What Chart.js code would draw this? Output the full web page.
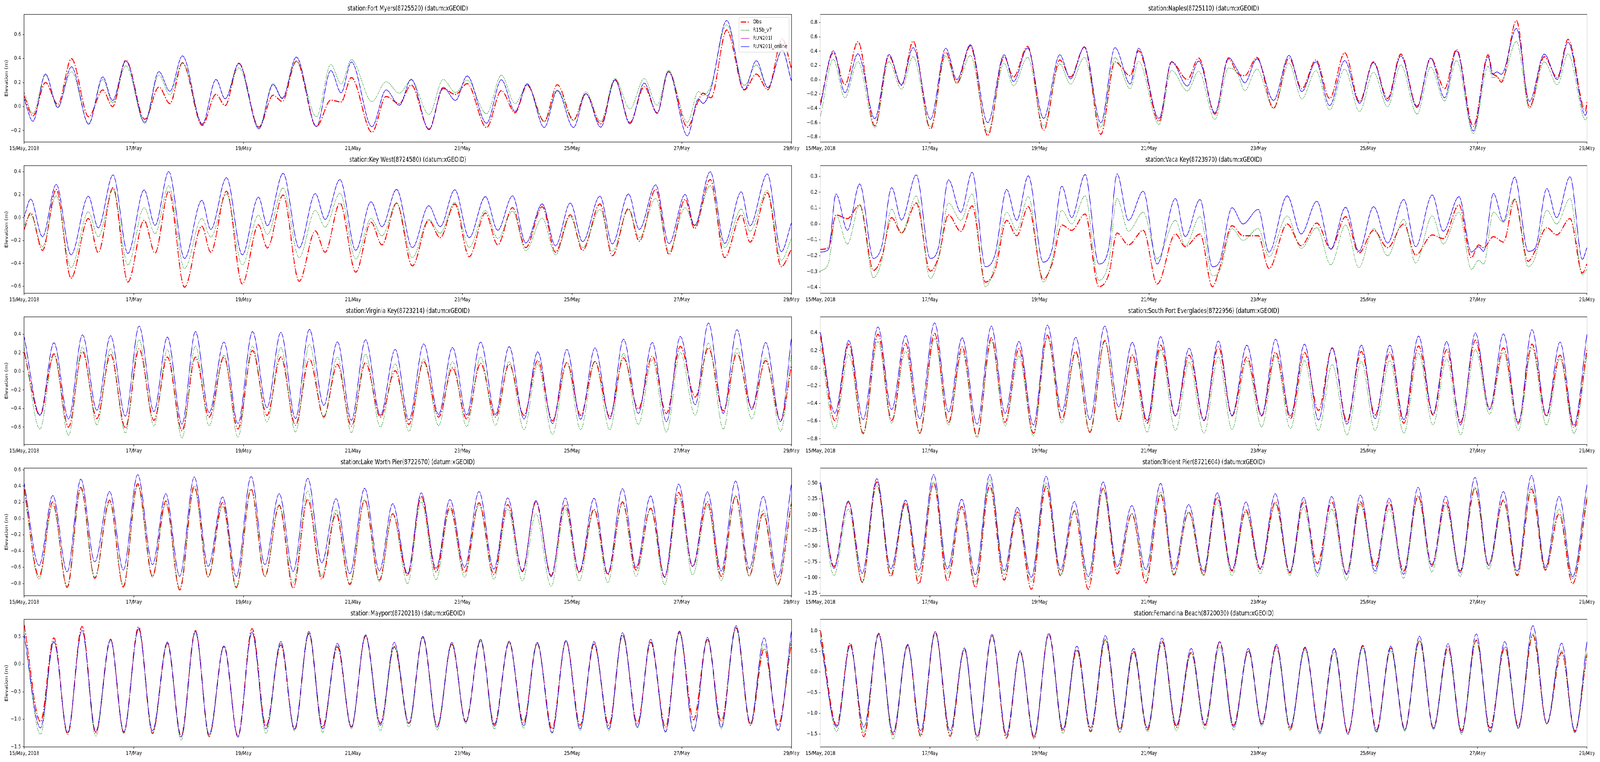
<!DOCTYPE html>
<html>
<head>
<meta charset="utf-8">
<script src="https://cdn.jsdelivr.net/npm/chart.js@4.4.1/dist/chart.umd.min.js"></script>
<style>
  html, body { margin: 0; padding: 0; background: #fff; overflow: hidden; }
  #page { position: absolute; left: 0; top: 0; width: 5150px; height: 1950px; transform-origin: 0 0; background: #fff; }
  .panel { position: absolute; height: 387px; }
  .left { left: 0; width: 2580px; }
  .right { left: 2580px; width: 2570px; }
</style>
</head>
<body>
<div id="page"></div>
<script>
var dayLabels = ['15/May, 2018', '17/May', '19/May', '21/May', '23/May', '25/May', '27/May', '29/May'];

// Fort Myers
var fortMyersHours = [0,3.8,9.3,14.7,20.7,28.2,34.4,38.7,44.5,52.8,59.0,63.8,69.3,78.0,84.0,88.0,94.0,102.8,109.0,113.0,119.2,128.0,134.3,138.8,143.3,152.3,158.5,164.3,169.5,177.3,183.5,188.9,194.0,202.5,209.0,215.0,220.3,227.8,233.5,240.6,246.0,252.5,258.8,265.3,271.6,277.2,282.2,290.5,295.3,297.3,300.8,307.7,315.4,320.7,325.7,332.0,336];
var fortMyersObs = [0.086,-0.079,0.200,0.018,0.398,-0.085,0.138,-0.001,0.385,-0.106,0.162,0.024,0.364,-0.157,0.102,0.008,0.360,-0.172,0.094,0.042,0.377,-0.166,0.053,0.038,0.241,-0.215,0.084,0.024,0.179,-0.188,0.150,0.100,0.190,-0.175,0.132,-0.052,0.178,-0.123,0.181,-0.112,0.105,-0.144,0.225,-0.134,0.165,-0.052,0.290,-0.172,0.05,0.111,0.073,0.637,0.138,0.27,0.14,0.565,0.32];
var fortMyersR15b = [0.116,-0.058,0.263,0.002,0.290,-0.139,0.225,0.031,0.339,-0.142,0.261,0.097,0.364,-0.144,0.223,0.067,0.322,-0.172,0.192,0.073,0.379,-0.085,0.350,0.187,0.390,0.042,0.206,0.111,0.219,-0.066,0.225,0.116,0.219,-0.06,0.261,0.024,0.181,-0.128,0.14,-0.117,0.122,-0.123,0.233,-0.02,0.233,0.01,0.303,-0.131,0.125,0.094,0.176,0.681,0.176,0.346,0.16,0.464,0.214];
var fortMyersRun = [0.06,-0.123,0.271,-0.009,0.331,-0.147,0.246,0.051,0.379,-0.131,0.290,0.127,0.422,-0.147,0.225,0.064,0.357,-0.186,0.183,0.067,0.411,-0.166,0.299,0.114,0.371,-0.168,0.138,0.010,0.227,-0.193,0.160,0.051,0.254,-0.139,0.223,-0.041,0.189,-0.174,0.132,-0.175,0.107,-0.172,0.219,-0.144,0.195,-0.058,0.292,-0.244,0.064,0.026,0.149,0.716,0.140,0.381,0.157,0.47,0.214];

// Naples
var naplesHours = [0,5.6,10.7,16.4,23.8,30.0,35.5,40.6,48.2,54.9,59.8,65.7,73.3,80.5,84.6,90.8,97.8,104.9,109.6,115.7,122.9,129.1,135.8,139.4,148.4,153.9,160.8,165.8,172.9,178.9,182.7,186.0,191.3,198.6,205.4,211.0,217.2,223.2,229.8,236.3,242.4,248.6,254.4,261.5,267.5,273.6,278.8,286.2,292.7,294.6,296.5,298.5,305.1,310.8,317.3,323.0,327.7,335.4,336];
var naplesObs = [-0.32,0.377,-0.069,0.532,-0.643,0.332,-0.078,0.54,-0.689,0.386,-0.042,0.474,-0.78,0.322,0.04,0.468,-0.707,0.277,0.04,0.459,-0.762,0.25,0.058,0.405,-0.58,0.25,0.004,0.304,-0.479,0.295,0.095,0.058,0.313,-0.397,0.304,-0.124,0.277,-0.261,0.377,-0.306,0.25,-0.261,0.359,-0.37,0.304,-0.124,0.423,-0.652,0.35,0.095,0.05,-0.033,0.827,-0.379,0.322,0.031,0.565,-0.434,-0.306];
var naplesR15b = [-0.51,0.286,-0.251,0.253,-0.67,0.253,-0.133,0.323,-0.652,0.332,-0.055,0.339,-0.725,0.231,-0.084,0.313,-0.643,0.222,-0.06,0.313,-0.661,0.31,-0.124,0.259,-0.625,0.131,-0.155,0.117,-0.552,0.164,0.095,-0.151,0.149,-0.397,0.231,-0.266,0.128,-0.419,0.149,-0.443,0.104,-0.375,0.208,-0.479,0.177,-0.297,0.268,-0.753,0.19,0.031,0.04,-0.005,0.536,-0.401,0.25,-0.069,0.364,-0.561,-0.525];
var naplesRun = [-0.36,0.405,-0.179,0.363,-0.543,0.354,-0.069,0.45,-0.552,0.441,0.004,0.49,-0.598,0.35,-0.024,0.445,-0.539,0.35,0.013,0.456,-0.601,0.45,-0.06,0.441,-0.539,0.253,-0.087,0.262,-0.461,0.31,0.14,-0.042,0.292,-0.288,0.341,-0.164,0.25,-0.361,0.268,-0.328,0.241,-0.297,0.332,-0.388,0.299,-0.251,0.405,-0.716,0.323,0.077,0.11,0.077,0.718,-0.302,0.359,0.004,0.523,-0.497,-0.434];

// Key West
var keyWestHours = [0,2.8,8,14,20.5,28.1,32.4,38.9,45.4,52.5,57.3,63.3,70.2,77.8,81.7,88.6,95.5,102.6,106.5,113.4,120.4,127.5,131.8,138.3,145.2,151.9,156.7,163.1,170,177.2,182.2,188.6,194.9,202,207.4,213.9,219.7,226.9,232.7,239.2,244.6,252.2,257.6,264.7,269.4,276.6,282.4,289.5,293.6,300.5,306.8,314.1,317.9,325.5,331.6,336];
var keyWestObs = [-0.103,0.04,-0.286,0.246,-0.529,-0.008,-0.306,0.262,-0.563,-0.024,-0.31,0.23,-0.608,-0.075,-0.302,0.23,-0.579,-0.063,-0.265,0.198,-0.556,-0.116,-0.302,0.127,-0.476,-0.04,-0.238,0.127,-0.421,-0.024,-0.175,0.119,-0.341,0.04,-0.238,0.087,-0.262,0.095,-0.302,0.024,-0.286,0.119,-0.333,0.079,-0.206,0.246,-0.322,0.159,-0.095,0.333,-0.349,0.024,-0.214,0.217,-0.429,-0.278];
var keyWestR15b = [-0.063,0.024,-0.254,0.19,-0.437,0.051,-0.167,0.246,-0.413,0.087,-0.14,0.278,-0.444,-0.008,-0.17,0.206,-0.413,0.021,-0.148,0.259,-0.349,0.063,-0.083,0.214,-0.362,-0.008,-0.159,0.127,-0.349,-0.016,-0.135,0.132,-0.259,0.063,-0.183,0.056,-0.289,-0.005,-0.325,0.008,-0.262,0.071,-0.294,0.071,-0.175,0.167,-0.294,0.087,-0.063,0.278,-0.262,0.075,-0.119,0.238,-0.373,-0.183];
var keyWestRun = [0.008,0.162,-0.167,0.289,-0.325,0.187,-0.09,0.373,-0.313,0.241,-0.068,0.402,-0.357,0.151,-0.103,0.349,-0.325,0.179,-0.071,0.386,-0.265,0.21,-0.016,0.333,-0.286,0.138,-0.079,0.246,-0.262,0.103,-0.079,0.243,-0.175,0.183,-0.111,0.19,-0.222,0.119,-0.246,0.127,-0.21,0.187,-0.23,0.206,-0.103,0.286,-0.227,0.202,-0.071,0.4,-0.225,0.225,-0.071,0.381,-0.298,-0.048];

// Vaca Key
var vacaKeyHours = [0,3.5,6.8,11.8,17.2,23.2,26.9,31.2,35.5,42,48.1,51.8,56.1,61.5,66.5,72.3,76.6,81.6,86,91.1,97.6,101.5,105.8,110.1,116,122,126.4,130,135,141.5,147.6,155.6,159.9,166.4,171.8,175,180.4,185.2,191.9,196.6,204.6,210.7,217.6,223.7,230.2,236,242.5,248.6,255.7,260.9,268.2,273,279.9,285.3,288.5,290.7,295,299.4,304.3,310.2,313.4,318.4,322.7,328.6,334,336];
var vacaKeyObs = [-0.16,-0.149,0.057,0.034,0.12,-0.292,-0.206,0.04,-0.057,0.132,-0.297,-0.206,0.057,-0.046,0.114,-0.366,-0.286,0.023,-0.074,0.109,-0.349,-0.252,-0.006,-0.04,0.063,-0.395,-0.315,-0.057,-0.132,-0.04,-0.378,-0.063,-0.143,-0.063,-0.395,-0.275,-0.011,-0.074,-0.074,-0.28,0.0,-0.137,0.006,-0.158,0.046,-0.183,-0.04,-0.149,0.0,-0.195,-0.069,-0.092,0.12,-0.212,-0.132,-0.149,-0.08,-0.114,0.154,-0.235,-0.166,-0.023,-0.069,0.034,-0.309,-0.252];
var vacaKeyR15b = [-0.297,-0.246,0.055,-0.126,0.12,-0.338,-0.229,0.094,-0.057,0.177,-0.343,-0.212,0.132,0.023,0.189,-0.395,-0.252,0.074,-0.04,0.172,-0.366,-0.229,0.086,0.0,0.177,-0.355,-0.235,0.16,-0.046,0.074,-0.217,0.023,-0.137,0.046,-0.326,-0.297,-0.029,-0.103,-0.029,-0.206,0.051,-0.154,-0.023,-0.257,-0.006,-0.275,-0.029,-0.2,0.029,-0.246,0.051,-0.126,0.074,-0.286,-0.229,-0.252,0.074,0.011,0.16,-0.269,-0.206,0.086,0.0,0.16,-0.32,-0.286];
var vacaKeyRun = [-0.177,-0.16,0.189,-0.04,0.252,-0.217,-0.137,0.229,0.025,0.309,-0.217,-0.143,0.278,0.074,0.326,-0.269,-0.189,0.217,0.023,0.303,-0.24,-0.16,0.238,0.04,0.311,-0.252,-0.149,0.315,0.023,0.206,-0.252,0.16,-0.08,0.154,-0.269,-0.235,0.103,0.0,0.092,-0.177,0.177,-0.063,0.143,-0.158,0.105,-0.172,0.109,-0.12,0.154,-0.143,0.183,-0.046,0.172,-0.177,-0.143,-0.172,0.192,0.017,0.295,-0.172,-0.149,0.223,0.04,0.297,-0.223,-0.149];

// Virginia Key
var virginiaHours = [0,6.9,13,19.4,25.5,31.8,37.8,44.3,50.3,56.8,62.7,69.1,75,81,87.5,93.6,100,106.3,112.4,118.8,124.9,131.2,137.2,143.3,149.5,156,162.5,168.5,175,181.5,187.6,193.8,199.9,206.4,212.4,218.9,224.9,231.4,237.7,243.7,250,256.5,262.5,269,275.1,281.3,287.4,293.9,299.7,306.2,312.2,318.7,324.8,331.3,336];
var virginiaObs = [0.204,-0.473,0.19,-0.6,0.214,-0.508,0.184,-0.61,0.243,-0.527,0.155,-0.639,0.155,-0.492,0.155,-0.62,0.224,-0.473,0.155,-0.58,0.135,-0.488,0.076,-0.59,0.096,-0.492,0.008,-0.571,0.106,-0.492,0.037,-0.512,0.086,-0.492,0.076,-0.473,0.116,-0.531,0.096,-0.473,0.106,-0.488,0.145,-0.404,0.165,-0.453,0.269,-0.276,0.253,-0.424,0.194,-0.394,0.116,-0.531,0.05];
var virginiaR15b = [0.253,-0.62,0.175,-0.688,0.263,-0.575,0.243,-0.663,0.341,-0.586,0.233,-0.718,0.273,-0.586,0.175,-0.708,0.273,-0.547,0.257,-0.653,0.292,-0.502,0.155,-0.659,0.184,-0.6,0.08,-0.645,0.135,-0.584,0.106,-0.594,0.155,-0.58,0.106,-0.629,0.076,-0.678,0.096,-0.629,0.106,-0.629,0.194,-0.571,0.125,-0.653,0.204,-0.473,0.306,-0.62,0.249,-0.512,0.145,-0.645,0.175];
var virginiaRun = [0.37,-0.469,0.308,-0.512,0.394,-0.418,0.384,-0.482,0.488,-0.433,0.37,-0.567,0.429,-0.443,0.316,-0.561,0.429,-0.39,0.42,-0.508,0.453,-0.365,0.318,-0.527,0.341,-0.473,0.237,-0.522,0.296,-0.463,0.257,-0.469,0.316,-0.463,0.267,-0.512,0.21,-0.561,0.237,-0.516,0.253,-0.512,0.347,-0.453,0.312,-0.541,0.376,-0.359,0.522,-0.453,0.449,-0.41,0.312,-0.541,0.351];

// South Port Everglades
var evergladesHours = [0,6.3,12.4,18.7,25.2,31.2,37.3,43.5,50,56.1,62.1,68.6,74.9,80.9,87,93.3,99.5,105.8,111.9,118.1,124.6,130.7,136.7,143.2,149.1,155.6,161.6,168.1,174.4,180.4,186.9,193.4,199.5,206,212.2,218.3,224.3,230.8,237.1,243.1,249.6,255.7,262.2,268.5,274.5,280.6,287.1,293.3,299.4,305.9,311.9,318.2,324.2,330.3,336];
var evergladesObs = [0.364,-0.593,0.272,-0.737,0.385,-0.593,0.282,-0.737,0.395,-0.613,0.241,-0.767,0.344,-0.613,0.22,-0.737,0.374,-0.582,0.189,-0.726,0.313,-0.603,0.148,-0.623,0.261,-0.541,0.148,-0.593,0.241,-0.541,0.128,-0.541,0.179,-0.572,0.179,-0.479,0.23,-0.603,0.189,-0.531,0.179,-0.623,0.251,-0.531,0.21,-0.613,0.317,-0.459,0.23,-0.613,0.272,-0.541,0.148,-0.675,0.21];
var evergladesR15b = [0.251,-0.685,0.158,-0.747,0.302,-0.623,0.189,-0.737,0.337,-0.644,0.189,-0.788,0.313,-0.654,0.138,-0.767,0.354,-0.623,0.169,-0.716,0.302,-0.572,0.107,-0.726,0.21,-0.706,0.066,-0.737,0.128,-0.695,0.086,-0.665,0.138,-0.685,0.086,-0.706,0.041,-0.757,0.076,-0.706,0.086,-0.737,0.169,-0.644,0.107,-0.757,0.21,-0.521,0.179,-0.706,0.23,-0.644,0.107,-0.737,0.148];
var evergladesRun = [0.405,-0.51,0.313,-0.582,0.467,-0.469,0.37,-0.572,0.514,-0.494,0.344,-0.634,0.477,-0.51,0.302,-0.644,0.488,-0.49,0.35,-0.582,0.477,-0.438,0.292,-0.593,0.358,-0.541,0.226,-0.588,0.309,-0.535,0.261,-0.535,0.329,-0.541,0.272,-0.588,0.226,-0.634,0.261,-0.572,0.261,-0.582,0.364,-0.521,0.302,-0.644,0.399,-0.469,0.389,-0.634,0.436,-0.541,0.296,-0.644,0.385];

// Lake Worth Pier
var lakeWorthHours = [0,6.5,12.5,18.8,24.8,30.9,37.4,43.4,49.7,56.2,62,68.1,74.5,80.6,86.9,92.9,99.4,105.4,111.7,117.8,124.2,130.3,136.6,142.6,149.1,155.6,161.4,167.9,173.9,180.4,186.5,192.9,199.2,205.7,211.8,218.2,224.1,230.8,237,243.1,249.6,255.6,262.1,268,274.4,280.5,286.7,292.8,299.3,305.3,311.6,317.6,323.7,330,336];
var lakeWorthObs = [0.363,-0.712,0.206,-0.847,0.385,-0.735,0.228,-0.842,0.43,-0.712,0.217,-0.88,0.403,-0.717,0.199,-0.847,0.363,-0.712,0.161,-0.858,0.24,-0.746,0.06,-0.813,0.228,-0.757,0.06,-0.701,0.273,-0.656,0.15,-0.667,0.195,-0.69,0.172,-0.645,0.206,-0.701,0.172,-0.667,0.116,-0.69,0.206,-0.634,0.128,-0.723,0.323,-0.589,0.206,-0.712,0.273,-0.701,0.06,-0.813,0.184];
var lakeWorthR15b = [0.318,-0.746,0.161,-0.835,0.363,-0.723,0.206,-0.824,0.408,-0.723,0.184,-0.858,0.374,-0.712,0.15,-0.858,0.363,-0.712,0.172,-0.791,0.34,-0.701,0.105,-0.802,0.228,-0.779,0.06,-0.802,0.206,-0.753,0.116,-0.723,0.172,-0.746,0.116,-0.768,0.06,-0.835,0.116,-0.768,0.105,-0.791,0.195,-0.712,0.116,-0.813,0.262,-0.694,0.161,-0.768,0.284,-0.712,0.105,-0.824,0.206];
var lakeWorthRun = [0.43,-0.578,0.284,-0.656,0.486,-0.533,0.334,-0.634,0.542,-0.567,0.307,-0.712,0.513,-0.589,0.267,-0.712,0.52,-0.567,0.307,-0.65,0.497,-0.544,0.246,-0.679,0.374,-0.645,0.184,-0.679,0.318,-0.611,0.235,-0.6,0.334,-0.623,0.255,-0.656,0.224,-0.717,0.255,-0.656,0.251,-0.679,0.37,-0.6,0.28,-0.717,0.426,-0.589,0.329,-0.645,0.464,-0.618,0.273,-0.723,0.419];

// Trident Pier
var tridentHours = [0,5.9,12.2,18.3,24.7,30.8,37.3,43.1,49.6,55.6,61.9,67.9,74.2,80.5,86.3,92.4,98.9,105.2,111.3,117.4,123.9,130.1,136.5,142.6,149.1,154.9,161.4,167.9,173.9,180.4,186.5,192.8,199.4,205.7,211.8,217.8,224.1,230.6,236.7,243.1,249.3,255.6,262,268,274.1,280.4,286.9,292.9,299.4,305.4,311.7,317.8,323.8,329.7,336];
var tridentObs = [0.49,-0.822,0.202,-1.067,0.519,-0.98,0.187,-1.096,0.505,-1.052,0.13,-1.153,0.461,-1.038,0.043,-1.182,0.447,-0.966,0.058,-1.182,0.418,-0.937,0.014,-1.081,0.317,-0.952,0.043,-0.952,0.274,-0.894,0.072,-0.865,0.202,-0.923,0.202,-0.779,0.202,-0.937,0.202,-0.822,0.187,-0.894,0.303,-0.793,0.202,-0.894,0.418,-0.793,0.231,-0.966,0.404,-0.879,0.014,-1.096,0.26];
var tridentR15b = [0.461,-0.966,0.087,-1.081,0.461,-0.937,0.159,-0.98,0.519,-0.937,0.101,-1.067,0.548,-0.952,-0.014,-1.067,0.505,-0.952,0.072,-1.067,0.404,-0.879,0.014,-0.98,0.36,-0.966,0.029,-0.966,0.187,-0.966,0.043,-0.937,0.173,-0.966,0.115,-0.98,0.087,-1.038,0.159,-0.937,0.087,-1.009,0.274,-0.908,0.144,-0.98,0.433,-0.865,0.216,-0.952,0.447,-0.865,0.087,-1.009,0.288];
var tridentRun = [0.519,-0.851,0.216,-0.928,0.571,-0.859,0.231,-0.879,0.634,-0.859,0.245,-0.952,0.634,-0.888,0.115,-0.995,0.611,-0.879,0.208,-0.98,0.519,-0.822,0.144,-0.871,0.496,-0.865,0.159,-0.894,0.346,-0.879,0.202,-0.851,0.332,-0.908,0.274,-0.923,0.288,-0.952,0.309,-0.894,0.26,-0.946,0.433,-0.822,0.294,-0.923,0.591,-0.807,0.366,-0.894,0.62,-0.836,0.288,-0.98,0.476];

// Mayport
var mayportHours = [0,7.1,13,19,25.3,31.3,37.8,43.6,50.1,56.2,62.7,68.7,75,81,87.5,93.6,99.8,105.9,112.4,118.4,124.7,130.7,137.2,143.3,149.5,156,162.1,168.5,174.6,180.9,187.3,193.4,199.9,205.9,212.4,218.7,224.7,231.2,237.3,243.5,249.6,256.1,262.1,268.6,274.4,280.9,287,293.2,299.3,305.3,311.8,318.1,324.1,330.2,336];
var mayportObs = [0.712,-1.043,0.48,-1.275,0.685,-1.242,0.454,-1.242,0.679,-1.258,0.381,-1.308,0.613,-1.308,0.331,-1.308,0.646,-1.126,0.348,-1.192,0.563,-1.142,0.315,-1.142,0.513,-1.076,0.315,-1.076,0.497,-1.126,0.364,-1.043,0.43,-1.093,0.397,-1.06,0.381,-1.175,0.43,-1.109,0.364,-1.109,0.53,-1.076,0.397,-1.142,0.586,-1.01,0.447,-1.043,0.662,-1.109,0.281,-1.109,0.364];
var mayportR15b = [0.53,-1.275,0.397,-1.258,0.613,-1.308,0.43,-1.258,0.629,-1.258,0.381,-1.381,0.579,-1.325,0.315,-1.325,0.563,-1.258,0.381,-1.209,0.546,-1.242,0.348,-1.175,0.513,-1.209,0.331,-1.142,0.48,-1.192,0.364,-1.076,0.43,-1.175,0.397,-1.159,0.364,-1.258,0.414,-1.209,0.381,-1.209,0.53,-1.159,0.414,-1.242,0.563,-1.225,0.447,-1.175,0.646,-1.109,0.364,-1.192,0.447];
var mayportRun = [0.53,-1.159,0.414,-1.242,0.613,-1.225,0.447,-1.225,0.646,-1.209,0.407,-1.325,0.596,-1.275,0.331,-1.325,0.586,-1.175,0.414,-1.175,0.596,-1.175,0.381,-1.142,0.536,-1.109,0.397,-1.076,0.507,-1.142,0.397,-1.05,0.454,-1.126,0.421,-1.116,0.397,-1.242,0.43,-1.175,0.414,-1.175,0.573,-1.142,0.454,-1.225,0.606,-1.209,0.487,-1.142,0.702,-1.076,0.48,-1.209,0.596];

// Fernandina Beach
var fernandinaHours = [0,7.1,13,19,25.5,31.8,38.2,43.9,50.3,56.8,63.1,68.7,75.2,81.5,87.5,93.6,100.1,106.3,112.4,118.4,124.9,131.2,137.2,143.3,149.7,156,162.5,168.5,175,181.1,187.6,193.4,199.9,205.9,212.4,218.9,225.2,231.2,237.7,243.7,250,256.1,262.6,268.7,275.1,281,287.5,293.5,300,305.9,312.3,318.4,324.9,330.7,336];
var fernandinaObs = [1.0,-1.292,0.701,-1.565,0.935,-1.512,0.648,-1.556,0.966,-1.556,0.551,-1.578,0.89,-1.6,0.494,-1.6,0.935,-1.424,0.538,-1.446,0.78,-1.446,0.494,-1.402,0.745,-1.336,0.472,-1.292,0.728,-1.292,0.516,-1.248,0.626,-1.38,0.582,-1.424,0.56,-1.468,0.626,-1.402,0.582,-1.38,0.758,-1.358,0.604,-1.424,0.772,-1.358,0.613,-1.314,0.89,-1.248,0.472,-1.424,0.428];
var fernandinaR15b = [0.89,-1.446,0.626,-1.468,0.89,-1.623,0.626,-1.512,0.935,-1.512,0.538,-1.667,0.869,-1.556,0.472,-1.623,0.89,-1.49,0.516,-1.424,0.78,-1.468,0.472,-1.446,0.714,-1.424,0.45,-1.38,0.604,-1.402,0.494,-1.314,0.56,-1.424,0.538,-1.503,0.472,-1.512,0.582,-1.468,0.516,-1.433,0.758,-1.402,0.516,-1.512,0.758,-1.468,0.56,-1.38,0.935,-1.27,0.516,-1.468,0.472];
var fernandinaRun = [0.78,-1.336,0.648,-1.336,0.913,-1.468,0.67,-1.424,0.979,-1.424,0.582,-1.556,0.913,-1.512,0.516,-1.556,0.922,-1.38,0.626,-1.358,0.882,-1.371,0.569,-1.358,0.824,-1.292,0.569,-1.27,0.736,-1.336,0.569,-1.27,0.67,-1.336,0.604,-1.468,0.569,-1.503,0.648,-1.446,0.626,-1.402,0.869,-1.371,0.683,-1.468,0.922,-1.446,0.736,-1.358,1.12,-1.248,0.701,-1.459,0.736];

var panels = [
  { name: 'Fort Myers(8725520)', hours: fortMyersHours, obs: fortMyersObs, r15b: fortMyersR15b, run: fortMyersRun, yMin: -0.294, yMax: 0.765, step: 0.2, dec: 1, legend: true },
  { name: 'Naples(8725110)', hours: naplesHours, obs: naplesObs, r15b: naplesR15b, run: naplesRun, yMin: -0.867, yMax: 0.911, step: 0.2, dec: 1 },
  { name: 'Key West(8724580)', hours: keyWestHours, obs: keyWestObs, r15b: keyWestR15b, run: keyWestRun, yMin: -0.659, yMax: 0.452, step: 0.2, dec: 1 },
  { name: 'Vaca Key(8723970)', hours: vacaKeyHours, obs: vacaKeyObs, r15b: vacaKeyR15b, run: vacaKeyRun, yMin: -0.435, yMax: 0.366, step: 0.1, dec: 1 },
  { name: 'Virginia Key(8723214)', hours: virginiaHours, obs: virginiaObs, r15b: virginiaR15b, run: virginiaRun, yMin: -0.785, yMax: 0.585, step: 0.2, dec: 1 },
  { name: 'South Port Everglades(8722956)', hours: evergladesHours, obs: evergladesObs, r15b: evergladesR15b, run: evergladesRun, yMin: -0.862, yMax: 0.579, step: 0.2, dec: 1 },
  { name: 'Lake Worth Pier(8722670)', hours: lakeWorthHours, obs: lakeWorthObs, r15b: lakeWorthR15b, run: lakeWorthRun, yMin: -0.948, yMax: 0.62, step: 0.2, dec: 1 },
  { name: 'Trident Pier(8721604)', hours: tridentHours, obs: tridentObs, r15b: tridentR15b, run: tridentRun, yMin: -1.282, yMax: 0.735, step: 0.25, dec: 2 },
  { name: 'Mayport(8720218)', hours: mayportHours, obs: mayportObs, r15b: mayportR15b, run: mayportRun, yMin: -1.5, yMax: 0.813, step: 0.5, dec: 1 },
  { name: 'Fernandina Beach(8720030)', hours: fernandinaHours, obs: fernandinaObs, r15b: fernandinaR15b, run: fernandinaRun, yMin: -1.81, yMax: 1.27, step: 0.5, dec: 1 }
];

// the figure is laid out at 5150x1950; squeeze it into the window if the window is smaller
var page = document.getElementById('page');
var sx = Math.min(1, (window.innerWidth || 5150) / 5150);
var sy = Math.min(1, (window.innerHeight || 1950) / 1950);
page.style.transform = 'scale(' + sx + ',' + sy + ')';

Chart.defaults.font.family = '"DejaVu Sans", sans-serif';
Chart.defaults.color = '#000';

function pts(hours, vals) {
  return hours.map(function (h, i) { return { x: h, y: vals[i] }; });
}

function fmt(v, dec) {
  var r = Number(v.toFixed(dec));
  var s = Math.abs(r).toFixed(dec);
  return r < 0 ? '\u2212' + s : s;
}

// full box round the axes, like the matplotlib spines
var frame = {
  id: 'frame',
  afterDatasetsDraw: function (chart) {
    var a = chart.chartArea, ctx = chart.ctx;
    ctx.save();
    ctx.strokeStyle = '#000';
    ctx.lineWidth = 1.2;
    ctx.strokeRect(a.left - 0.5, a.top - 0.5, a.right - a.left + 1, a.bottom - a.top + 1);
    ctx.restore();
  }
};

// legend drawn inside the axes, upper right
var innerLegend = {
  id: 'innerLegend',
  afterDraw: function (chart, args, opts) {
    if (!opts.show) return;
    var ctx = chart.ctx, a = chart.chartArea, sets = chart.data.datasets;
    ctx.save();
    ctx.font = '14px "DejaVu Sans"';
    var textW = 0;
    sets.forEach(function (d) { textW = Math.max(textW, ctx.measureText(d.label).width); });
    var pad = 5.6, handle = 28, gap = 11.2, rowH = 21;
    var w = pad + handle + gap + textW + pad;
    var h = rowH * sets.length + 5;
    var x = a.right - 7 - w, y = a.top + 7;
    ctx.beginPath();
    ctx.roundRect(x, y, w, h, 3);
    ctx.fillStyle = 'rgba(255,255,255,0.8)';
    ctx.fill();
    ctx.strokeStyle = '#cccccc';
    ctx.lineWidth = 1;
    ctx.stroke();
    sets.forEach(function (d, i) {
      var cy = y + 12 + i * rowH;
      ctx.beginPath();
      ctx.setLineDash(d.borderDash || []);
      ctx.strokeStyle = d.borderColor;
      ctx.lineWidth = d.borderWidth;
      ctx.moveTo(x + pad, cy);
      ctx.lineTo(x + pad + handle, cy);
      ctx.stroke();
      ctx.setLineDash([]);
      ctx.fillStyle = '#000';
      ctx.textBaseline = 'middle';
      ctx.fillText(d.label, x + pad + handle + gap, cy);
    });
    ctx.restore();
  }
};

panels.forEach(function (p, idx) {
  var isLeft = idx % 2 === 0;
  var row = Math.floor(idx / 2);
  var div = document.createElement('div');
  div.className = 'panel ' + (isLeft ? 'left' : 'right');
  div.style.top = (row * 387) + 'px';
  var cv = document.createElement('canvas');
  div.appendChild(cv);
  page.appendChild(div);

  new Chart(cv, {
    type: 'line',
    data: {
      datasets: [
        { label: 'Obs', data: pts(p.hours, p.obs), borderColor: '#ff0000', borderWidth: 2.8, borderDash: [17.8, 4.4, 2.8, 4.4], order: 4 },
        { label: 'R15b_v7', data: pts(p.hours, p.r15b), borderColor: '#008000', borderWidth: 1.1, borderDash: [3.9, 1.7], order: 3 },
        { label: 'RUN201l', data: pts(p.hours, p.run), borderColor: '#bf00bf', borderWidth: 1.3, order: 2 },
        { label: 'RUN201l_online', data: pts(p.hours, p.run), borderColor: '#0000ff', borderWidth: 1.3, order: 1 }
      ]
    },
    options: {
      responsive: true,
      maintainAspectRatio: false,
      devicePixelRatio: 1,
      animation: false,
      parsing: false,
      elements: { point: { radius: 0 }, line: { cubicInterpolationMode: 'monotone', fill: false } },
      layout: { padding: { left: 0, right: isLeft ? 33 : 42, top: 0, bottom: 0 } },
      scales: {
        x: {
          type: 'linear', min: 0, max: 336,
          afterFit: function (s) { s.height = 24; },
          border: { display: false },
          grid: { drawOnChartArea: false, tickLength: 5, tickColor: '#000', lineWidth: 1.2 },
          ticks: {
            stepSize: 48, autoSkip: false, maxRotation: 0, minRotation: 0, padding: 4,
            font: { size: 14 }, color: '#000',
            callback: function (v) { return dayLabels[Math.round(v / 48)]; }
          }
        },
        y: {
          type: 'linear', min: p.yMin, max: p.yMax,
          afterFit: function (s) { s.width = isLeft ? 78 : 61; },
          border: { display: false },
          grid: { drawOnChartArea: false, tickLength: 5, tickColor: '#000', lineWidth: 1.2 },
          ticks: {
            stepSize: p.step, includeBounds: false, padding: 5, autoSkip: false,
            font: { size: 14 }, color: '#000',
            callback: function (v) { return fmt(v, p.dec); }
          },
          title: { display: isLeft, text: 'Elevation (m)', font: { size: 14 }, color: '#000', padding: { top: 13, bottom: 0 } }
        }
      },
      plugins: {
        legend: { display: false },
        tooltip: { enabled: false },
        title: {
          display: true, text: 'station:' + p.name + ' (datum:xGEOID)', fullSize: false,
          font: { size: 17, weight: 'normal', lineHeight: 1.2 }, color: '#000',
          padding: { top: 12, bottom: 5 }
        },
        innerLegend: { show: !!p.legend }
      }
    },
    plugins: [frame, innerLegend]
  });
});
</script>
</body>
</html>
